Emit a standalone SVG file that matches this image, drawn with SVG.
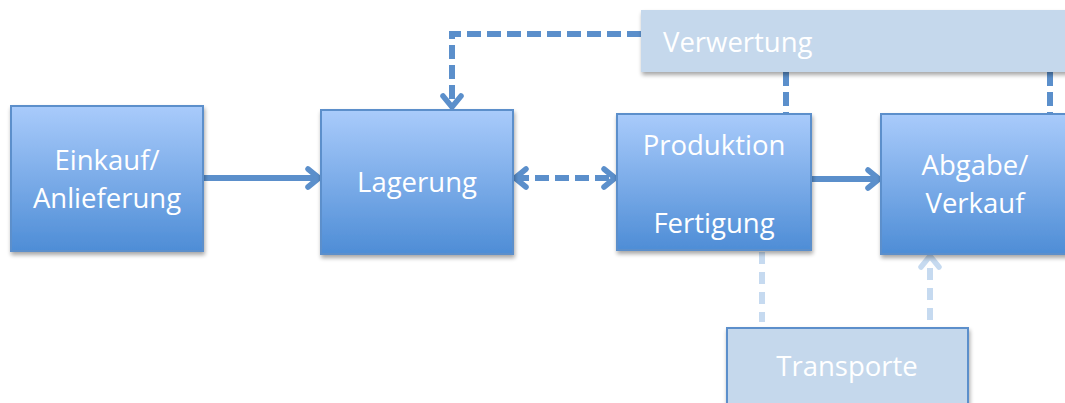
<svg xmlns="http://www.w3.org/2000/svg" width="1065" height="403" viewBox="0 0 1065 403">
<defs>
<linearGradient id="g" x1="0" y1="0" x2="0" y2="1">
<stop offset="0" stop-color="#a9cbfb"/>
<stop offset="1" stop-color="#4e8dd6"/>
</linearGradient>
<filter id="sh" x="-10%" y="-10%" width="130%" height="130%">
<feGaussianBlur in="SourceAlpha" stdDeviation="2"/>
<feOffset dx="1" dy="3" result="b"/>
<feComponentTransfer><feFuncA type="linear" slope="0.35"/></feComponentTransfer>
<feMerge><feMergeNode/><feMergeNode in="SourceGraphic"/></feMerge>
</filter>
<marker id="ah" viewBox="0 0 18 26" refX="15" refY="13" markerWidth="18" markerHeight="26" markerUnits="userSpaceOnUse" orient="auto-start-reverse">
<path d="M4,4 L15,13 L4,22" fill="none" stroke="#5b8fcb" stroke-width="5.5" stroke-linecap="round" stroke-linejoin="round"/>
</marker>
<marker id="ahl" viewBox="0 0 18 26" refX="15" refY="13" markerWidth="18" markerHeight="26" markerUnits="userSpaceOnUse" orient="auto">
<path d="M4,4 L15,13 L4,22" fill="none" stroke="#c6daf0" stroke-width="5.5" stroke-linecap="round" stroke-linejoin="round"/>
</marker>
</defs>
<style>
.box{fill:url(#g);stroke:#5b8fcb;stroke-width:2;filter:url(#sh)}
.lbox{fill:#c5d8ec;filter:url(#sh)}
.tbox{fill:#c5d8ec;stroke:#5b8fcb;stroke-width:2;filter:url(#sh)}
.t{font-family:"Open Sans","Liberation Sans",sans-serif;font-size:27.5px;fill:#ffffff;text-anchor:middle}
.c{fill:none;stroke:#5b8fcb;stroke-width:6}
.d{stroke-dasharray:14 6}
.l{fill:none;stroke:#c6daf0;stroke-width:6;stroke-dasharray:12 8}
</style>
<g id="connectors">
<line class="c" x1="203" y1="178" x2="319" y2="178" marker-end="url(#ah)"/>
<line class="c d" x1="515" y1="178" x2="615" y2="178" marker-start="url(#ah)" marker-end="url(#ah)"/>
<line class="c" x1="811" y1="179" x2="879" y2="179" marker-end="url(#ah)"/>
<polyline class="c d" points="641,34 452,34 452,107" marker-end="url(#ah)"/>
<line class="c d" x1="786" y1="72" x2="786" y2="114"/>
<line class="c d" x1="1050" y1="72" x2="1050" y2="114"/>
<line class="l" x1="762" y1="252" x2="762" y2="322"/>
<line class="l" x1="930" y1="320" x2="930" y2="256" marker-end="url(#ahl)"/>
</g>
<g id="verwertung">
<rect class="lbox" x="641" y="10" width="430" height="62"/>
<text class="t" x="663" y="52" style="text-anchor:start">Verwertung</text>
</g>
<g id="einkauf">
<rect class="box" x="11" y="106" width="192" height="145"/>
<text class="t" x="107" y="170">Einkauf/</text>
<text class="t" x="107" y="208">Anlieferung</text>
</g>
<g id="lagerung">
<rect class="box" x="321" y="110" width="192" height="144"/>
<text class="t" x="417" y="192">Lagerung</text>
</g>
<g id="produktion">
<rect class="box" x="617" y="114" width="194" height="136"/>
<text class="t" x="714" y="155">Produktion</text>
<text class="t" x="714" y="233">Fertigung</text>
</g>
<g id="abgabe">
<rect class="box" x="881" y="114" width="200" height="140"/>
<text class="t" x="975" y="175">Abgabe/</text>
<text class="t" x="975" y="213">Verkauf</text>
</g>
<g id="transporte">
<rect class="tbox" x="727" y="328" width="241" height="90"/>
<text class="t" x="847" y="376">Transporte</text>
</g>
</svg>
